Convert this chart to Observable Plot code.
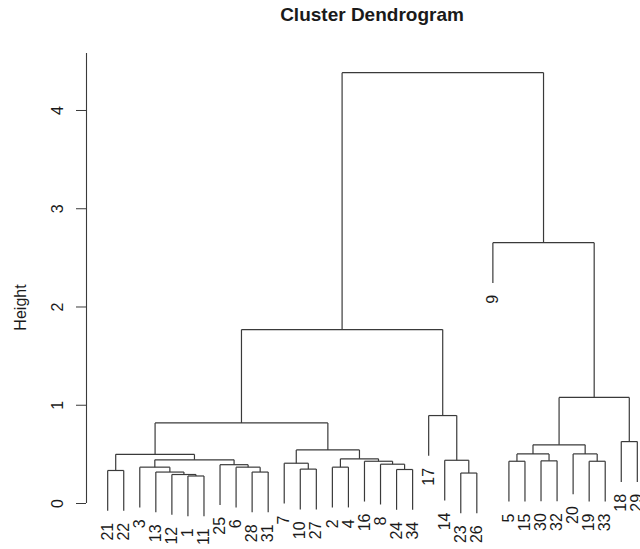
<!DOCTYPE html>
<html>
<head>
<meta charset="utf-8">
<script src="https://cdn.jsdelivr.net/npm/d3@7"></script>
<script src="https://cdn.jsdelivr.net/npm/@observablehq/plot@0.6"></script>
<style>
  html, body { margin: 0; padding: 0; background: #fff; overflow: hidden; }
  body { font-family: "Liberation Sans", Arial, sans-serif; }
  #title { position: relative; width: 640px; height: 30px; }
  #title span { position: absolute; left: 372px; top: 5px; transform: translateX(-50%);
    font-weight: bold; font-size: 19px; line-height: 19px; color: #1a1a1a; white-space: nowrap; }
  #chart svg { display: block; }
</style>
</head>
<body>
<div id="title"><span>Cluster Dendrogram</span></div>
<div id="chart"></div>
<script>
// Leaf order along the x axis (observation ids)
const leafOrder = [21, 22, 3, 13, 12, 1, 11, 25, 6, 28, 31, 7, 10, 27, 2, 4, 16, 8, 24, 34, 17, 14, 23, 26, 9, 5, 15, 30, 32, 20, 19, 33, 18, 29];

// hclust-style merge table: negative = observation id, positive = earlier merge (1-based)
const mergeLeft  = [-1, -12, -13, -28, -23, -21, -24, -10, -2, -6, -3, -25, -8, -7, -16, -5, -30, -19, -14, 11, 9, 6, -20, 16, 14, 24, -18, 22, -17, 26, 28, -9, 31];
const mergeRight = [-11, 1, 2, -31, -26, -22, -34, -27, -4, 4, 3, 10, 7, 8, 13, -15, -32, -33, 5, 12, 15, 20, 18, 17, 21, 23, -29, 25, 19, 27, 29, 30, 32];
const mergeHeight = [0.28, 0.295, 0.32, 0.32, 0.31, 0.336, 0.346, 0.35, 0.37, 0.37, 0.37, 0.395, 0.40, 0.41, 0.43, 0.43, 0.434, 0.43, 0.44, 0.445, 0.455, 0.50, 0.505, 0.505, 0.545, 0.597, 0.63, 0.82, 0.895, 1.08, 1.77, 2.655, 4.385];

const yTicks = [0, 1, 2, 3, 4];
const hang = 0.41;      // leaf hang below parent merge
const axisTop = 4.58;   // top of the drawn y axis line
const yLabel = "Height";

// Build dendrogram segments
const n = leafOrder.length;
const posOf = new Map(leafOrder.map((id, i) => [id, i + 1]));
const nodeX = [];
const segs = [];
const leaves = [];
for (let k = 0; k < mergeHeight.length; k++) {
  const h = mergeHeight[k];
  const xs = [mergeLeft[k], mergeRight[k]].map(c => {
    if (c < 0) {
      const x = posOf.get(-c);
      leaves.push({label: String(-c), x, y: h - hang});
      segs.push({x1: x, y1: h - hang, x2: x, y2: h});
      return x;
    } else {
      const x = nodeX[c - 1];
      segs.push({x1: x, y1: mergeHeight[c - 1], x2: x, y2: h});
      return x;
    }
  });
  segs.push({x1: xs[0], y1: h, x2: xs[1], y2: h});
  nodeX[k] = (xs[0] + xs[1]) / 2;
}

const xlim = [1 - 0.04 * (n - 1), n + 0.04 * (n - 1)];
const ink = "#3a3a3a";

const plot = Plot.plot({
  width: 640,
  height: 519,
  marginLeft: 86,
  marginRight: 0,
  marginTop: 23,
  marginBottom: 46,
  x: {domain: xlim, range: [86, 658], axis: null},
  y: {domain: [0, axisTop], axis: null},
  style: {fontFamily: "'Liberation Sans', Arial, sans-serif", fontSize: "16px", color: "#1a1a1a", background: "white", overflow: "hidden"},
  marks: [
    Plot.ruleX([xlim[0]], {stroke: ink, strokeWidth: 1.1}),
    Plot.axisY({ticks: yTicks, tickFormat: d => String(d), tickSize: 10, tickPadding: 14, tickRotate: -90, fontSize: 16, label: null, stroke: ink}),
    Plot.link(segs, {x1: "x1", y1: "y1", x2: "x2", y2: "y2", stroke: ink, strokeWidth: 1.2}),
    Plot.text(leaves, {x: "x", y: "y", text: "label", rotate: -90, textAnchor: "end", lineAnchor: "middle", dy: 12, fontSize: 16, fill: "#1a1a1a"}),
    Plot.text([yLabel], {text: d => d, frameAnchor: "left", textAnchor: "middle", lineAnchor: "middle", dx: -66, dy: 29, rotate: -90, fontSize: 16, fill: "#1a1a1a"})
  ]
});
document.getElementById("chart").appendChild(plot);
</script>
</body>
</html>
